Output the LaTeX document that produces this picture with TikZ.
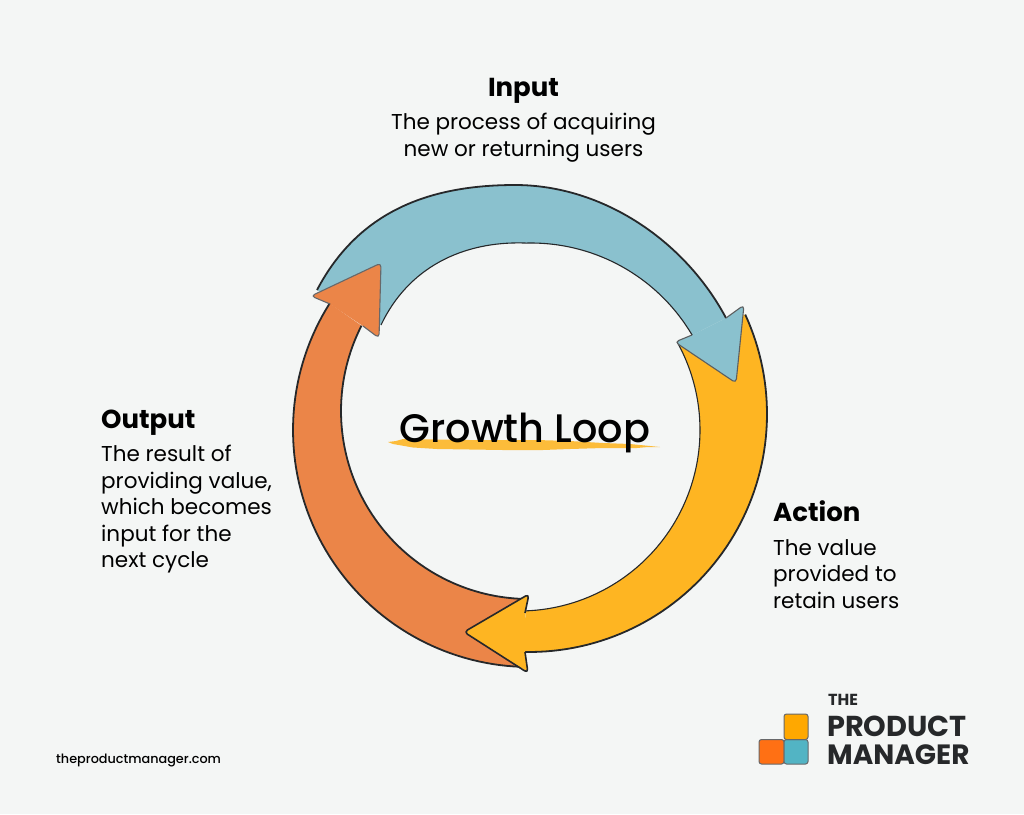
\documentclass[tikz,border=0pt]{standalone}
\usepackage{fontspec}
\setmainfont{Poppins}
\definecolor{bgc}{HTML}{F4F6F5}
\definecolor{tealc}{HTML}{8AC1CE}
\definecolor{orangec}{HTML}{EB8548}
\definecolor{yellowc}{HTML}{FEB522}
\definecolor{inkc}{HTML}{26282A}
\definecolor{brushc}{HTML}{FCBC3A}
\definecolor{logoa}{HTML}{FFA800}
\definecolor{logob}{HTML}{FF7014}
\definecolor{logoc}{HTML}{52B4C4}
% circular arc: centre x, centre y, radius, from angle, to angle
\newcommand\circarc[5]{({#1+#3*cos(#4)},{#2+#3*sin(#4)}) -- plot[domain=#4:#5,samples=70,variable=\t] ({#1+#3*cos(\t)},{#2+#3*sin(\t)})}
\newcommand\tealouter{(317,290) .. controls (358,212) and (428,185) .. (515,185) .. controls (603,185) and (685,241) .. (726,318)}
\newcommand\tealinnerleft{(525,243) .. controls (462,241) and (408,268) .. (381,325)}
\newcommand\tealinnerright{\circarc{531}{430}{187}{-30.5}{-91.8}}
\newcommand\yelouter{\circarc{529}{414}{238}{-24.7}{91}}
\newcommand\yelinner{\circarc{519}{430}{181}{88}{-29.1}}
\newcommand\oraouter{\circarc{530}{430}{237}{92}{212.3}}
\newcommand\orainner{\circarc{529}{411}{188}{207}{91.5}}
\tikzset{
  edgeline/.style={draw=inkc,line width=1.8pt,line join=round},
  thinedge/.style={draw=inkc,line width=1.1pt},
  headedge/.style={draw=#1,line width=1.1pt,rounded corners=4pt,line join=round},
  headtxt/.style={font=\fontsize{26}{30}\selectfont\bfseries,text=black,inner sep=0pt},
  bodytxt/.style={font=\fontsize{21.5}{26.5}\selectfont,text=black,inner sep=0pt},
  logotxt/.style={text=inkc,inner sep=0pt,anchor=base west},
  cell/.style={draw=inkc!70,line width=1pt,rounded corners=2.5pt,fill=#1},
}
\begin{document}
\begin{tikzpicture}[x=1pt,y=-1pt]
\path[use as bounding box,fill=bgc] (0,0) rectangle (1024,814);
% yellow arrow (whole)
\fill[yellowc] \yelouter -- \yelinner -- cycle;
\draw[edgeline] \yelouter;
\draw[thinedge] \yelinner;
% teal arrow
\fill[tealc] \tealouter -- \tealinnerright -- \tealinnerleft -- cycle;
\fill[tealc,rounded corners=4pt] (726,318) -- (744,305) -- (736,383) -- (675,342) -- (692,335) -- cycle;
\draw[edgeline] \tealouter;
\draw[thinedge] \tealinnerright -- \tealinnerleft;
\draw[headedge=inkc!75] (726,318) -- (744,305) -- (736,383) -- (675,342) -- (692,335);
% orange arrow
\fill[orangec] \oraouter -- \orainner -- cycle;
\fill[orangec,rounded corners=4pt] (330,304) -- (311,296) -- (381,263) -- (379,338) -- (363,326) -- cycle;
\draw[edgeline] \oraouter;
\draw[edgeline] \orainner;
\draw[headedge=inkc!70] (330,304) -- (311,296) -- (381,263) -- (379,338) -- (363,326);
% yellow head on top
\fill[yellowc,rounded corners=4pt] (525,613) -- (529,594) -- (465,632) -- (528,672) -- (525,652) -- cycle;
\draw[draw=inkc,line width=1.6pt,rounded corners=4pt,line join=round] (525,613) -- (529,594) -- (464,632) -- (528,673) -- (525,652);
% brush stroke
\fill[brushc] (388,442) -- (396,441) -- (403,439) -- (470,440) -- (537,440) -- (570,441) -- (603,443) -- (630,444) -- (660,447) -- (648,447) -- (637,448) -- (603,448) -- (570,449) -- (543,450) -- (503,450) -- (470,449.5) -- (437,449) -- (413,447.5) -- (393,444) -- cycle;
% texts
\node[font=\fontsize{39.8}{44}\selectfont\fontspec{Poppins Medium},text=black,inner sep=0pt,anchor=base] (title) at (525,442) {Growth Loop};
\node[headtxt,anchor=base] (inputh) at (523.5,96) {Input};
\node[bodytxt,anchor=north,align=center] (inputb) at (523.5,113) {The process of acquiring\\new or returning users};
\node[headtxt,anchor=base west] (outputh) at (101,428) {Output};
\node[bodytxt,anchor=north west,align=left] (outputb) at (101,445) {The result of\\providing value,\\which becomes\\input for the\\next cycle};
\node[headtxt,anchor=base west] (actionh) at (773,521) {Action};
\node[bodytxt,anchor=north west,align=left] (actionb) at (773,539) {The value\\provided to\\retain users};
\node[font=\fontsize{12.8}{16}\selectfont\fontspec{Poppins Medium},text=black,inner sep=0pt,anchor=base west] (site) at (56,763) {theproductmanager.com};
% logo
\draw[cell=logob] (759,739.5) rectangle (784,764);
\draw[cell=logoc] (784,739.5) rectangle (808,764);
\draw[cell=logoa] (784,714) rectangle (808,739.5);
\node[logotxt,font=\fontsize{16}{18}\selectfont\bfseries] (lthe) at (828,705) {THE};
\node[logotxt,font=\fontsize{28.8}{30}\selectfont\bfseries] (lprod) at (827,736) {PRODUCT};
\node[logotxt,font=\fontsize{27.9}{30}\selectfont\bfseries] (lman) at (827,764) {MANAGER};
\end{tikzpicture}
\end{document}
